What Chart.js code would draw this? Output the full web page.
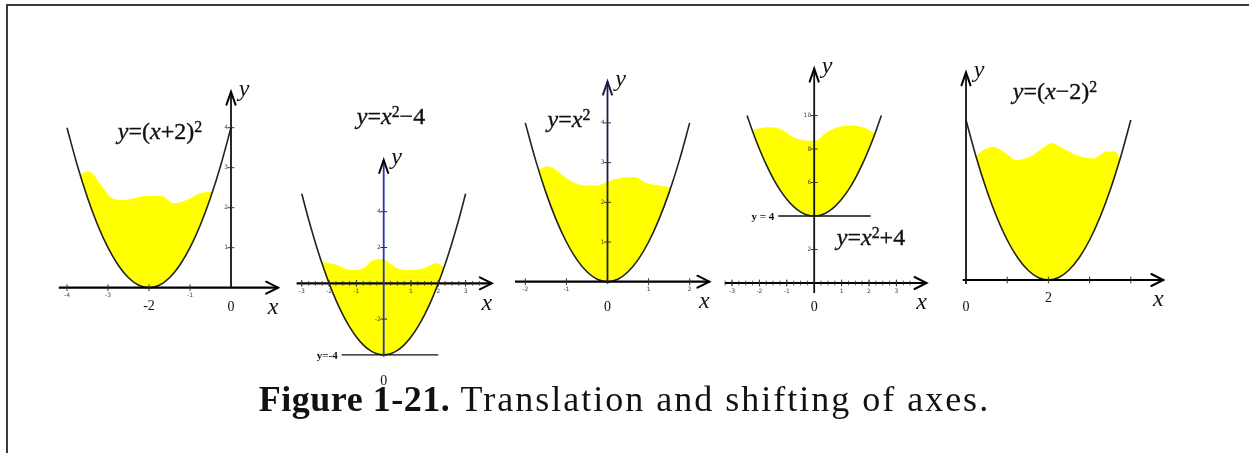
<!DOCTYPE html>
<html>
<head>
<meta charset="utf-8">
<script src="https://cdn.jsdelivr.net/npm/chart.js@4/dist/chart.umd.min.js"></script>
<style>
html,body{margin:0;padding:0;background:#fff;}
#page{position:relative;width:1249px;height:453px;overflow:hidden;background:#fff;}
#page canvas{position:absolute;left:0;top:0;}
#frame{position:absolute;left:6px;top:4px;width:1300px;height:500px;border-top:2px solid #3a3a3a;border-left:2px solid #3a3a3a;}
.eq{position:absolute;font-family:'Liberation Serif',serif;font-size:24px;line-height:24px;white-space:nowrap;color:#111;transform:translateX(-50%);-webkit-text-stroke:0.35px #111;}
.eq i{font-style:italic;}
.eq .sp{position:relative;top:-0.45em;font-size:0.66em;}
#caption{position:absolute;left:0;top:381px;width:1249px;text-align:center;font-family:'Liberation Serif',serif;font-size:36px;line-height:36px;color:#111;white-space:nowrap;}
#caption b{letter-spacing:0.5px;}
#caption span{letter-spacing:2px;}
</style>
</head>
<body>
<div id="page">
  <div id="frame"></div>
  <canvas id="c1" width="1249" height="453"></canvas>
  <canvas id="c2" width="1249" height="453"></canvas>
  <canvas id="c3" width="1249" height="453"></canvas>
  <canvas id="c4" width="1249" height="453"></canvas>
  <canvas id="c5" width="1249" height="453"></canvas>
  <div class="eq" style="left:160px;top:119px;"><i>y</i>=(<i>x</i>+2)<span class="sp">2</span></div>
  <div class="eq" style="left:391px;top:104px;"><i>y</i>=<i>x</i><span class="sp">2</span>−4</div>
  <div class="eq" style="left:569px;top:107px;"><i>y</i>=<i>x</i><span class="sp">2</span></div>
  <div class="eq" style="left:871px;top:225px;"><i>y</i>=<i>x</i><span class="sp">2</span>+4</div>
  <div class="eq" style="left:1055px;top:79px;"><i>y</i>=(<i>x</i>−2)<span class="sp">2</span></div>
  <div id="caption"><b>Figure 1-21.</b><span> Translation and shifting of axes.</span></div>
</div>
<script>
// ---- base parabola (v = u^2), read values ----
const PARA_U = [-3, -2.75, -2.5, -2.45, -2.25, -2, -1.75, -1.5, -1.25, -1, -0.75, -0.5, -0.25, 0, 0.25, 0.5, 0.75, 1, 1.25, 1.5, 1.75, 2, 2.25, 2.45, 2.5, 2.75, 3];
const PARA_V = [9, 7.5625, 6.25, 6.0025, 5.0625, 4, 3.0625, 2.25, 1.5625, 1, 0.5625, 0.25, 0.0625, 0, 0.0625, 0.25, 0.5625, 1, 1.5625, 2.25, 3.0625, 4, 5.0625, 6.0025, 6.25, 7.5625, 9];
// translation of each panel: y = (x - h)^2 + k
const SHIFT_H = [-2, 0, 0, 0, 2];
const SHIFT_K = [0, -4, 0, 4, 0];
const U_LIMIT = [2, 3, 2, 2.45, 2];

// ---- yellow "liquid" tops ----
const P1_WAVE_X = [-3.68, -3.55, -3.41, -3.2, -2.95, -2.63, -2.35, -2.14, -1.9, -1.65, -1.41, -1.08, -0.76, -0.45];
const P1_WAVE_Y = [2.82, 2.9, 2.88, 2.61, 2.28, 2.19, 2.24, 2.29, 2.3, 2.28, 2.11, 2.19, 2.36, 2.40];
const P2_WAVE_X = [-2.28, -2.0, -1.71, -1.23, -0.74, -0.49, -0.13, 0.05, 0.48, 0.97, 1.46, 1.95, 2.21];
const P2_WAVE_Y = [1.21, 1.12, 1.02, 0.74, 0.84, 1.21, 1.34, 1.30, 0.84, 0.74, 0.84, 1.12, 0.88];
const P3_WAVE_X = [-1.68, -1.48, -1.32, -1.0, -0.67, -0.26, 0.03, 0.31, 0.64, 0.97, 1.29, 1.54];
const P3_WAVE_Y = [2.82, 2.90, 2.86, 2.61, 2.44, 2.42, 2.53, 2.61, 2.64, 2.48, 2.42, 2.37];
const P4_WAVE_X = [-2.27, -1.72, -1.24, -0.75, -0.27, 0.04, 0.46, 0.95, 1.43, 1.92, 2.22];
const P4_WAVE_Y = [9.15, 9.30, 9.20, 8.70, 8.50, 8.50, 9.00, 9.34, 9.40, 9.20, 8.93];
const P5_WAVE_X = [0.24, 0.42, 0.66, 0.91, 1.23, 1.55, 1.80, 2.08, 2.36, 2.69, 3.09, 3.42, 3.62, 3.74];
const P5_WAVE_Y = [3.10, 3.25, 3.33, 3.21, 3.00, 3.08, 3.25, 3.42, 3.29, 3.12, 3.04, 3.21, 3.21, 3.03];

// ---- axes extents (data units) ----
const P1_X_AXIS = [-4.2, 1.15], P1_Y_AXIS = [0, 4.9];
const P2_X_AXIS = [-3.19, 3.96], P2_Y_AXIS = [-4.1, 6.89];
const P3_X_AXIS = [-2.25, 2.48], P3_Y_AXIS = [-0.05, 5.04];
const P4_X_AXIS = [-3.26, 4.1], P4_Y_AXIS = [-0.6, 12.8];
const P5_X_AXIS = [-0.08, 4.79], P5_Y_AXIS = [-0.1, 5.19];

// ---- ticks ----
const P1_X_TICKS = [-4, -3, -2, -1], P1_X_TICK_LABELS = ['-4', '-3', '', '-1'];
const P1_Y_TICKS = [1, 2, 3, 4], P1_Y_TICK_LABELS = ['1', '2', '3', '4'];
const P2_X_TICKS = [-3, -2, -1, 1, 2, 3], P2_X_TICK_LABELS = ['-3', '-2', '-1', '1', '2', '3'];
const P2_Y_TICKS = [-4, -2, 2, 4], P2_Y_TICK_LABELS = ['', '-2', '2', '4'];
const P3_X_TICKS = [-2, -1, 1, 2], P3_X_TICK_LABELS = ['-2', '-1', '1', '2'];
const P3_Y_TICKS = [1, 2, 3, 4], P3_Y_TICK_LABELS = ['1', '2', '3', '4'];
const P4_X_TICKS = [-3, -2, -1, 1, 2, 3], P4_X_TICK_LABELS = ['-3', '-2', '-1', '1', '2', '3'];
const P4_Y_TICKS = [2, 4, 6, 8, 10], P4_Y_TICK_LABELS = ['2', '', '6', '8', '10'];
const P5_X_TICKS = [1, 2, 3, 4], P5_X_TICK_LABELS = ['', '', '', ''];
const P5_Y_TICKS = [], P5_Y_TICK_LABELS = [];

// ---- larger axis numbers: [x, y, text] ----
const P1_BIG_LABELS = [[-2, 0, '-2'], [0, 0, '0']];
const P2_BIG_LABELS = [[0, -4, '0']];
const P3_BIG_LABELS = [[0, 0, '0']];
const P4_BIG_LABELS = [[0, 0, '0']];
const P5_BIG_LABELS = [[0, 0, '0'], [2, 0, '2']];

// ---- horizontal reference lines ----
const P2_REF_X = [-1.54, 2.0], P2_REF_Y = -4, P2_REF_LABEL = 'y=-4';
const P4_REF_X = [-1.31, 2.06], P4_REF_Y = 4, P4_REF_LABEL = 'y = 4';

// ---- panel assembly ----
const PANELS = [
  {wx: P1_WAVE_X, wy: P1_WAVE_Y, xAxis: P1_X_AXIS, yAxis: P1_Y_AXIS, xTicks: P1_X_TICKS, xTickLabels: P1_X_TICK_LABELS, yTicks: P1_Y_TICKS, yTickLabels: P1_Y_TICK_LABELS, big: P1_BIG_LABELS, ref: null},
  {wx: P2_WAVE_X, wy: P2_WAVE_Y, xAxis: P2_X_AXIS, yAxis: P2_Y_AXIS, xTicks: P2_X_TICKS, xTickLabels: P2_X_TICK_LABELS, yTicks: P2_Y_TICKS, yTickLabels: P2_Y_TICK_LABELS, big: P2_BIG_LABELS, ref: {x: P2_REF_X, y: P2_REF_Y, label: P2_REF_LABEL}},
  {wx: P3_WAVE_X, wy: P3_WAVE_Y, xAxis: P3_X_AXIS, yAxis: P3_Y_AXIS, xTicks: P3_X_TICKS, xTickLabels: P3_X_TICK_LABELS, yTicks: P3_Y_TICKS, yTickLabels: P3_Y_TICK_LABELS, big: P3_BIG_LABELS, ref: null},
  {wx: P4_WAVE_X, wy: P4_WAVE_Y, xAxis: P4_X_AXIS, yAxis: P4_Y_AXIS, xTicks: P4_X_TICKS, xTickLabels: P4_X_TICK_LABELS, yTicks: P4_Y_TICKS, yTickLabels: P4_Y_TICK_LABELS, big: P4_BIG_LABELS, ref: {x: P4_REF_X, y: P4_REF_Y, label: P4_REF_LABEL}},
  {wx: P5_WAVE_X, wy: P5_WAVE_Y, xAxis: P5_X_AXIS, yAxis: P5_Y_AXIS, xTicks: P5_X_TICKS, xTickLabels: P5_X_TICK_LABELS, yTicks: P5_Y_TICKS, yTickLabels: P5_Y_TICK_LABELS, big: P5_BIG_LABELS, ref: null}
];

// ---- layout / style (pixel placement of each panel's origin and unit sizes) ----
const W = 1249, H = 453;
const LAYOUT = [
  {ox: 231,   oy: 287.7, sx: 41,   sy: 40,    minor: 0,    yAxisColor: '#111', arrowColor: '#000', bigDy: [19, 20]},
  {ox: 383.7, oy: 283.3, sx: 27.3, sy: 17.9,  minor: 0.25, yAxisColor: '#2a36b0', arrowColor: '#000', bigDy: [26]},
  {ox: 607.5, oy: 281.7, sx: 41.1, sy: 39.7,  minor: 0,    yAxisColor: '#1c1c4a', arrowColor: '#1c1c4a', bigDy: [26]},
  {ox: 814.2, oy: 283,   sx: 27.4, sy: 16.75, minor: 0.25, yAxisColor: '#111', arrowColor: '#000', bigDy: [24]},
  {ox: 966,   oy: 280,   sx: 41.2, sy: 40,    minor: 0,    yAxisColor: '#111', arrowColor: '#000', bigDy: [27, 18]}
];

function pts(xs, ys) { return xs.map((x, i) => ({x: x, y: ys[i]})); }
function parabolaPoints(i) {
  const out = [];
  for (let j = 0; j < PARA_U.length; j++) {
    const u = PARA_U[j];
    if (Math.abs(u) <= U_LIMIT[i] + 1e-9) out.push({x: u + SHIFT_H[i], y: PARA_V[j] + SHIFT_K[i]});
  }
  return out;
}

const decor = {
  id: 'decor',
  afterDatasetsDraw(chart, args, opts) {
    const p = opts.panel, L = opts.layout;
    const xs = chart.scales.x, ys = chart.scales.y;
    const X = v => xs.getPixelForValue(v), Y = v => ys.getPixelForValue(v);
    const ctx = chart.ctx;
    const x0 = X(0), y0 = Y(0);
    ctx.save();
    ctx.lineCap = 'round';
    // minor ticks
    ctx.strokeStyle = '#333';
    ctx.lineWidth = 0.8;
    if (L.minor) {
      const start = Math.ceil(p.xAxis[0] / L.minor) * L.minor;
      for (let v = start; v < p.xAxis[1] - 0.35; v += L.minor) {
        ctx.beginPath(); ctx.moveTo(X(v), y0 - 2); ctx.lineTo(X(v), y0 + 2); ctx.stroke();
      }
    }
    // major ticks
    ctx.lineWidth = 1;
    p.xTicks.forEach(v => { ctx.beginPath(); ctx.moveTo(X(v), y0 - 3); ctx.lineTo(X(v), y0 + 3); ctx.stroke(); });
    p.yTicks.forEach(v => { ctx.beginPath(); ctx.moveTo(x0 - 3, Y(v)); ctx.lineTo(x0 + 3, Y(v)); ctx.stroke(); });
    // tiny tick labels
    ctx.fillStyle = '#444';
    ctx.font = '6px "DejaVu Sans"';
    ctx.textAlign = 'center'; ctx.textBaseline = 'middle';
    p.xTicks.forEach((v, i) => { if (p.xTickLabels[i]) ctx.fillText(p.xTickLabels[i], X(v), y0 + 8); });
    ctx.textAlign = 'right';
    p.yTicks.forEach((v, i) => { if (p.yTickLabels[i]) ctx.fillText(p.yTickLabels[i], x0 - 3, Y(v)); });
    // arrowheads
    ctx.strokeStyle = '#000';
    ctx.lineWidth = 2;
    const tx = X(p.xAxis[1]);
    ctx.beginPath(); ctx.moveTo(tx - 12, y0 - 6); ctx.lineTo(tx, y0); ctx.lineTo(tx - 12, y0 + 6); ctx.stroke();
    const ty = Y(p.yAxis[1]);
    ctx.strokeStyle = L.arrowColor;
    ctx.beginPath(); ctx.moveTo(x0 - 4.5, ty + 13); ctx.lineTo(x0, ty); ctx.lineTo(x0 + 4.5, ty + 13); ctx.stroke();
    // axis letters
    ctx.fillStyle = '#111';
    ctx.font = 'italic 24px "Liberation Serif"';
    ctx.textAlign = 'center'; ctx.textBaseline = 'middle';
    ctx.fillText('x', tx - 5, y0 + 20);
    ctx.fillText('y', x0 + 13, ty - 2);
    // larger numbers
    ctx.font = '14px "Liberation Serif"';
    p.big.forEach((b, i) => { ctx.fillText(b[2], X(b[0]), Y(b[1]) + L.bigDy[i]); });
    // reference line label
    if (p.ref) {
      ctx.font = 'bold 11px "Liberation Serif"';
      ctx.textAlign = 'right';
      ctx.fillText(p.ref.label, X(p.ref.x[0]) - 4, Y(p.ref.y) + 1);
    }
    ctx.restore();
  }
};

PANELS.forEach((p, i) => {
  const L = LAYOUT[i];
  const datasets = [
    {data: pts(p.wx, p.wy), showLine: true, pointRadius: 0, borderWidth: 0, borderColor: 'rgba(0,0,0,0)',
     backgroundColor: '#ffff00', fill: 1, order: 10, cubicInterpolationMode: 'monotone'},
    {data: parabolaPoints(i), showLine: true, pointRadius: 0, borderWidth: 1.6, borderColor: '#222',
     fill: false, order: 2, cubicInterpolationMode: 'monotone'},
    {data: [{x: p.xAxis[0], y: 0}, {x: p.xAxis[1], y: 0}], showLine: true, pointRadius: 0, borderWidth: 2.2,
     borderColor: '#000', fill: false, order: 1},
    {data: [{x: 0, y: p.yAxis[0]}, {x: 0, y: p.yAxis[1]}], showLine: true, pointRadius: 0, borderWidth: 1.8,
     borderColor: L.yAxisColor, fill: false, order: 0}
  ];
  if (p.ref) {
    datasets.push({data: [{x: p.ref.x[0], y: p.ref.y}, {x: p.ref.x[1], y: p.ref.y}], showLine: true, pointRadius: 0,
      borderWidth: 1.3, borderColor: '#111', fill: false, order: 1});
  }
  new Chart(document.getElementById('c' + (i + 1)), {
    type: 'scatter',
    data: {datasets: datasets},
    options: {
      responsive: false,
      animation: false,
      events: [],
      layout: {padding: 0, autoPadding: false},
      scales: {
        x: {type: 'linear', display: false, bounds: 'data', min: (0 - L.ox) / L.sx, max: (W - L.ox) / L.sx},
        y: {type: 'linear', display: false, bounds: 'data', min: (L.oy - H) / L.sy, max: L.oy / L.sy}
      },
      plugins: {
        legend: {display: false},
        tooltip: {enabled: false},
        decor: {panel: p, layout: L}
      }
    },
    plugins: [decor]
  });
});
</script>
</body>
</html>
